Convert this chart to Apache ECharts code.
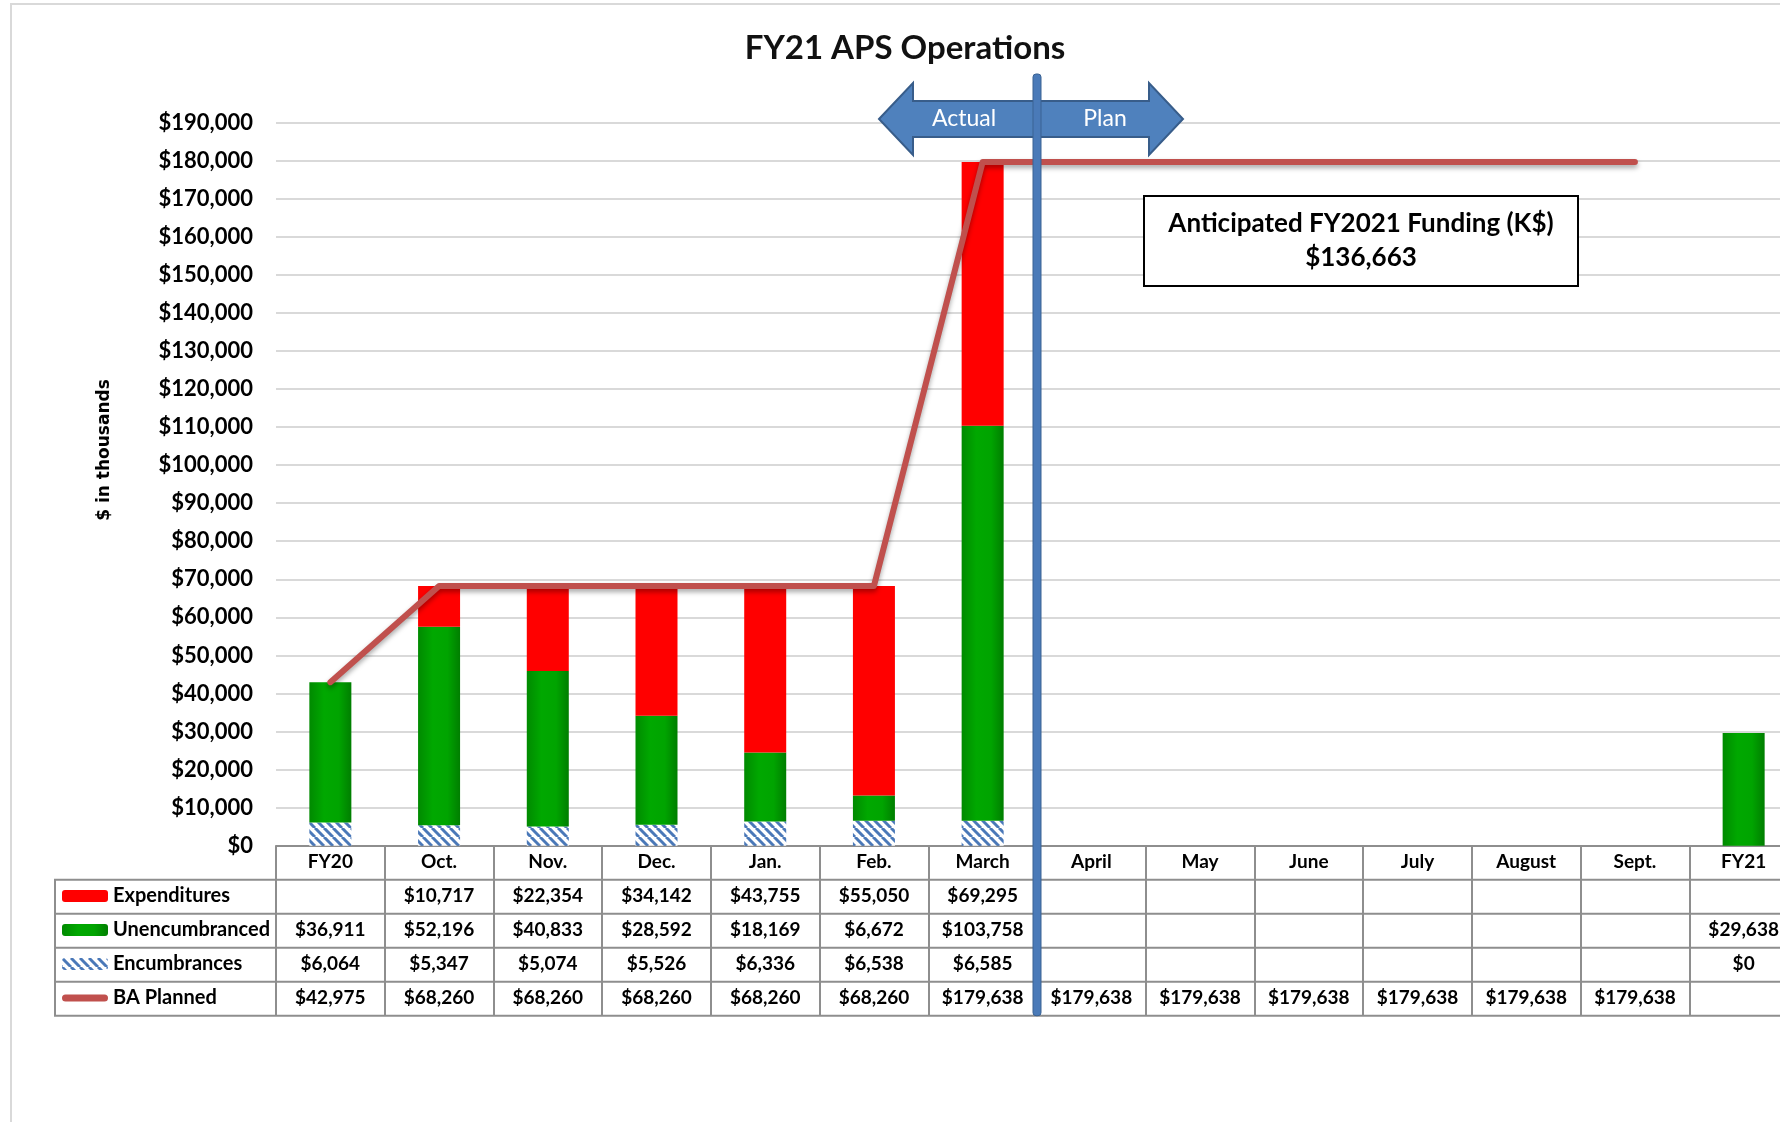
<!DOCTYPE html>
<html>
<head>
<meta charset="utf-8">
<title>FY21 APS Operations</title>
<script src="https://cdn.jsdelivr.net/npm/echarts@6/dist/echarts.min.js"></script>
<style>
html,body{margin:0;padding:0;background:#fff;}
#chart{width:1780px;height:1122px;}
</style>
</head>
<body>
<div id="chart"></div>
<script>
// chart data
const categories = ['FY20','Oct.','Nov.','Dec.','Jan.','Feb.','March','April','May','June','July','August','Sept.','FY21'];
const expenditures = [null,10717,22354,34142,43755,55050,69295,null,null,null,null,null,null,null];
const unencumbranced = [36911,52196,40833,28592,18169,6672,103758,null,null,null,null,null,null,29638];
const encumbrances = [6064,5347,5074,5526,6336,6538,6585,null,null,null,null,null,null,0];
const baPlanned = [42975,68260,68260,68260,68260,68260,179638,179638,179638,179638,179638,179638,179638,null];
const rowNames = ['Expenditures','Unencumbranced','Encumbrances','BA Planned'];
const yMin = 0, yMax = 190000, yStep = 10000;
const fundingLabel = 'Anticipated FY2021 Funding (K$)';
const fundingValue = 136663;
const lastActual = 'March';

function money(v){
    if(v === null || v === undefined) return '';
    return '$' + v.toLocaleString('en-US');
}

// 斜线填充
function hatch(){
    let c = document.createElement('canvas');
    c.width = 9; c.height = 9;
    let g = c.getContext('2d');
    g.fillStyle = '#fff';
    g.fillRect(0,0,9,9);
    g.strokeStyle = '#4a78b8';
    g.lineWidth = 3;
    [-9,0,9].forEach(x=>{
        g.beginPath(); g.moveTo(x,0); g.lineTo(x+9,9); g.stroke();
    });
    return c;
}

const font = {fontFamily:'Lato', fontWeight:'bold', color:'#000'};
const grey = '#8e8e8e';
const rowH = 34;

let xAxes = [{
    type:'category', data:categories,
    axisLine:{lineStyle:{color:grey, width:2}},
    axisTick:{show:true, interval:0, length:rowH*5, lineStyle:{color:grey, width:2}},
    axisLabel:Object.assign({interval:0, margin:16, verticalAlign:'middle', fontSize:19}, font)
}];
[expenditures, unencumbranced, encumbrances, baPlanned].forEach((row,k)=>{
    xAxes.push({
        type:'category', data:categories, position:'bottom', offset:rowH*(k+1),
        axisLine:{show:false}, axisTick:{show:false}, splitLine:{show:false},
        axisLabel:Object.assign({interval:0, margin:16, verticalAlign:'middle', fontSize:19,
            formatter:(v,i)=>money(row[i])}, font)
    });
});

const green = new echarts.graphic.LinearGradient(0,0,1,0,[
    {offset:0, color:'#008a00'},{offset:0.35, color:'#00a800'},
    {offset:0.7, color:'#00a400'},{offset:1, color:'#007e00'}
]);
const lineIcon = 'path://M3.5,0 L42.5,0 A3.5,3.5 0 0 1 42.5,7 L3.5,7 A3.5,3.5 0 0 1 3.5,0 Z';

let chart = echarts.init(document.getElementById('chart'));
chart.setOption({
    animation:false,
    title:{
        text:'FY21 APS Operations', left:900, top:27, textAlign:'center',
        textStyle:{fontFamily:'Lato', fontWeight:'bold', fontSize:33, color:'#111'}
    },
    legend:{
        data:[rowNames[0], rowNames[1], rowNames[2], {name:rowNames[3], icon:lineIcon}],
        orient:'vertical', left:62, top:886, padding:0,
        itemWidth:46, itemHeight:12, itemGap:14, selectedMode:false,
        textStyle:Object.assign({fontSize:20, lineHeight:20}, font)
    },
    grid:{left:276, right:-18, top:122.6, bottom:276.3, containLabel:false, outerBoundsMode:'none'},
    xAxis:xAxes,
    yAxis:{
        type:'value', min:yMin, max:yMax, interval:yStep,
        axisLine:{show:false}, axisTick:{show:false},
        splitLine:{lineStyle:{color:'#d9d9d9', width:2}},
        axisLabel:Object.assign({margin:23, fontSize:22, formatter:v=>money(v)}, font)
    },
    series:[
        {name:'Encumbrances', type:'bar', stack:'total', barWidth:42,
         itemStyle:{color:{image:hatch(), repeat:'repeat'}}, data:encumbrances},
        {name:'Unencumbranced', type:'bar', stack:'total', barWidth:42,
         itemStyle:{color:green}, data:unencumbranced},
        {name:'Expenditures', type:'bar', stack:'total', barWidth:42,
         itemStyle:{color:'#ff0000'}, data:expenditures},
        {name:'BA Planned', type:'line', data:baPlanned, symbol:'none', z:5,
         itemStyle:{color:'#c0504d'},
         lineStyle:{color:'#c0504d', width:6, cap:'round', join:'round',
            shadowColor:'rgba(0,0,0,0.35)', shadowBlur:5, shadowOffsetY:3}}
    ]
});

// 分隔线, 箭头, 表格线
let i = categories.indexOf(lastActual);
let xs = (chart.convertToPixel({xAxisIndex:0}, categories[i]) + chart.convertToPixel({xAxisIndex:0}, categories[i+1]))/2;
let y0 = chart.convertToPixel({yAxisIndex:0}, 0);
let g = [];
g.push({type:'polyline', shape:{points:[[11,1122],[11,4],[1780,4]]}, style:{stroke:'#d9d9d9', lineWidth:2, fill:null}, silent:true});
for(let k=1;k<=5;k++){
    g.push({type:'line', shape:{x1:54, y1:y0+rowH*k, x2:1780, y2:y0+rowH*k}, style:{stroke:grey, lineWidth:2}, silent:true});
}
g.push({type:'line', shape:{x1:55, y1:y0+rowH, x2:55, y2:y0+rowH*5}, style:{stroke:grey, lineWidth:2}, silent:true});
g.push({type:'text', x:105, y:450, rotation:Math.PI/2,
    style:{text:'$ in thousands', align:'center', verticalAlign:'middle', font:'bold 17px "DejaVu Sans"', fill:'#000'}});
g.push({type:'polygon', z:10, shape:{points:[
    [xs-158,119],[xs-124,83],[xs-124,101],[xs+112,101],[xs+112,83],
    [xs+146,119],[xs+112,155],[xs+112,137],[xs-124,137],[xs-124,155]]},
    style:{fill:'#4f81bd', stroke:'#385d8a', lineWidth:2}});
g.push({type:'text', z:11, x:xs-73, y:119, style:{text:'Actual', align:'center', verticalAlign:'middle', font:'23px Lato', fill:'#fff'}});
g.push({type:'text', z:11, x:xs+68, y:119, style:{text:'Plan', align:'center', verticalAlign:'middle', font:'23px Lato', fill:'#fff'}});
g.push({type:'rect', z:12, shape:{x:xs-4, y:74, width:8, height:y0+rowH*5-74, r:3},
    style:{fill:'#4a7ab8', stroke:'#3a6293', lineWidth:1}});
g.push({type:'rect', z:10, shape:{x:1144, y:196, width:434, height:90},
    style:{fill:'#fff', stroke:'#000', lineWidth:2}});
g.push({type:'text', z:11, x:1361, y:241,
    style:{text:fundingLabel + '\n' + money(fundingValue), align:'center', verticalAlign:'middle',
        lineHeight:34, font:'bold 26px Lato', fill:'#000'}});
chart.setOption({graphic:g});
</script>
</body>
</html>
